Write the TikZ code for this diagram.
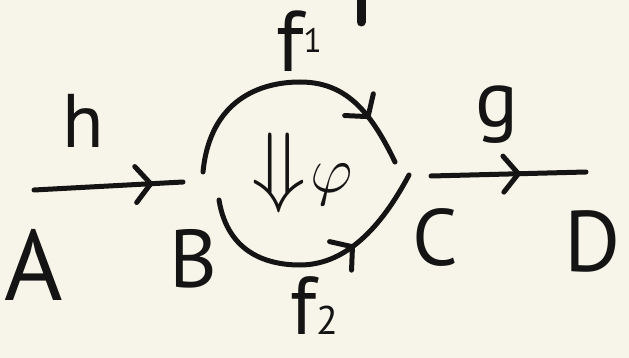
\RequirePackage{fix-cm}
\documentclass[tikz,border=0pt]{standalone}
\usepackage{fontspec}
\setmainfont{PT Sans}
\usetikzlibrary{arrows.meta,decorations.markings}
\definecolor{paper}{RGB}{247,245,234}
\definecolor{ink}{RGB}{20,20,20}

\begin{document}
\begin{tikzpicture}[
        x=1pt, y=-1pt,
        stroke/.style={ink, line width=5pt, line cap=round, line join=round},
        tipat/.style={postaction={decorate}, decoration={markings,
            mark=at position #1 with {\arrow{Straight Barb[round, length=15pt, width=36pt]}}}},
        obj/.style={ink, inner sep=0pt, anchor=base, font=\fontsize{#1}{#1}\selectfont},
        obj/.default=84,
        cellsym/.style={ink, inner sep=0pt, font=\fontsize{#1}{#1}\selectfont},
    ]
    % paper
    \fill[paper] (0,0) rectangle (629,358);
    \useasboundingbox (0,0) rectangle (629,358);

    % objects
    \node[obj=100] (A) at (34,300) {A};
    \node[obj=82]  (B) at (193,287) {B};
    \node[obj=80]  (C) at (435,265) {C};
    \node[obj=86]  (D) at (593,271) {D};

    % arrow labels
    \node[obj=76]  (h)  at (83,148)  {h};
    \node[obj=80]  (g)  at (497,127) {g};
    \node[obj=86]  (f1) at (299,72)  {f\raisebox{19pt}{\fontsize{34}{34}\selectfont 1}};
    \node[obj=82]  (f2) at (314,334) {f\fontsize{40}{40}\selectfont 2};

    % the 2-cell
    \node[cellsym=90] (cell) at (279,173) {$\Downarrow$};
    \node[cellsym=66] (phi)  at (332,185) {$\varphi$};

    % ends of the arrows
    \coordinate (hs)  at (34,190);
    \coordinate (he)  at (183,182);
    \coordinate (gs)  at (431,176);
    \coordinate (ge)  at (586,172);
    \coordinate (f1s) at (203,172);
    \coordinate (f1e) at (395,162);
    \coordinate (f2s) at (219,200);
    \coordinate (f2e) at (409,175);

    % h : A -> B and g : C -> D
    \draw[stroke, tipat=0.8]  (hs) -- (he);
    \draw[stroke, tipat=0.58] (gs) -- (ge);

    % f1 over the top, f2 underneath
    \draw[stroke, tipat=0.82] (f1s) .. controls (210,100) and (260,82) .. (300,82)
        .. controls (345,82) and (370,110) .. (f1e);
    \draw[stroke, tipat=0.66] (f2s) .. controls (228,255) and (270,265) .. (300,265)
        .. controls (350,265) and (385,220) .. (f2e);

    % stray pen stroke at the top
    \draw[stroke, line width=9pt] (361,-6) -- (361,22);

\end{tikzpicture}
\end{document}
